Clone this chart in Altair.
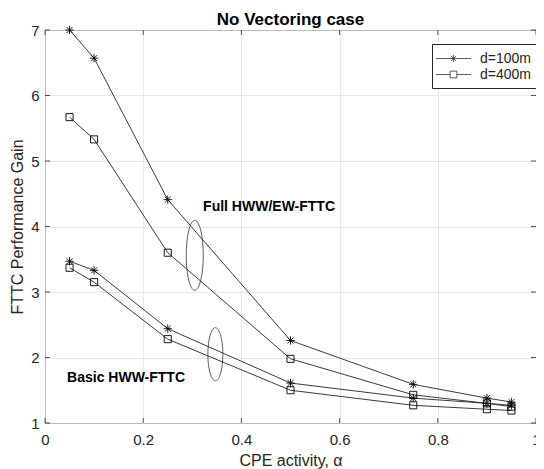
import altair as alt
import pandas as pd

alpha = [0.05, 0.1, 0.25, 0.5, 0.75, 0.9, 0.95]
full_100 = [7.0, 6.57, 4.41, 2.26, 1.59, 1.38, 1.32]
full_400 = [5.67, 5.33, 3.60, 1.98, 1.43, 1.30, 1.25]
basic_100 = [3.47, 3.33, 2.44, 1.61, 1.38, 1.30, 1.27]
basic_400 = [3.37, 3.15, 2.28, 1.50, 1.27, 1.21, 1.19]

series = [
    ("Full", "d=100m", full_100),
    ("Full", "d=400m", full_400),
    ("Basic", "d=100m", basic_100),
    ("Basic", "d=400m", basic_400),
]
legend_labels = ["d=100m", "d=400m"]

x_ticks = [0, 0.2, 0.4, 0.6, 0.8, 1]
y_ticks = [1, 2, 3, 4, 5, 6, 7]

annot_text = ["Full HWW/EW-FTTC", "Basic HWW-FTTC"]
annot_x = [0.322, 0.045]
annot_y = [4.30, 1.69]

ell_x = [0.305, 0.347]
ell_y = [3.56, 2.05]

rows = []
for scheme, d, vals in series:
    for a, v in zip(alpha, vals):
        rows.append({"alpha": a, "gain": v, "scheme": scheme, "dist": d, "grp": scheme + d})
df = pd.DataFrame(rows)

W, H = 491, 393
ink = "#262626"
FONT = "Liberation Sans"

xs = alt.Scale(domain=[0, 1], nice=False)
ys = alt.Scale(domain=[1, 7], nice=False)

STAR = "M-1,0L1,0M0,-1L0,1M-0.71,-0.71L0.71,0.71M-0.71,0.71L0.71,-0.71"
STAR_LEG = "M-2.2,0L2.2,0M0,-0.45L0,0.45M-0.32,-0.32L0.32,0.32M-0.32,0.32L0.32,-0.32"
SQ_LEG = "M-2.2,0L-0.42,0M0.42,0L2.2,0M-0.42,-0.42L0.42,-0.42L0.42,0.42L-0.42,0.42Z"

base = alt.Chart(df)

xenc = alt.X("alpha:Q", scale=xs,
             axis=alt.Axis(title="CPE activity, α", values=x_ticks, format="~g"))
yenc = alt.Y("gain:Q", scale=ys,
             axis=alt.Axis(title="FTTC Performance Gain", values=y_ticks, format="d"))

lines = base.mark_line(color=ink, strokeWidth=0.9).encode(
    x=xenc, y=yenc, detail="grp:N")

pts = base.mark_point(filled=False, color="black", strokeWidth=0.9, opacity=1).encode(
    x="alpha:Q", y="gain:Q",
    shape=alt.Shape("dist:N", scale=alt.Scale(domain=legend_labels, range=[STAR, "square"]),
                    legend=None),
    size=alt.Size("dist:N", scale=alt.Scale(domain=legend_labels, range=[70, 50]), legend=None),
)

leg_df = pd.DataFrame({"alpha": [-5, -5], "gain": [0, 0], "dleg": legend_labels})
leg = alt.Chart(leg_df).mark_point(filled=False, color="black", strokeWidth=0.9, clip=True).encode(
    x="alpha:Q", y="gain:Q",
    shape=alt.Shape("dleg:N", scale=alt.Scale(domain=legend_labels, range=[STAR_LEG, SQ_LEG]),
                    legend=alt.Legend(title=None, orient="none", legendX=387, legendY=14,
                                      symbolSize=256,
                                      symbolStrokeColor="black", symbolStrokeWidth=0.9,
                                      symbolFillColor="transparent",
                                      symbolOffset=7,
                                      labelFontSize=14, labelFont=FONT,
                                      labelColor=ink, padding=6,
                                      fillColor="white", strokeColor=ink,
                                      rowPadding=0, labelOffset=18)),
)

e1 = alt.Chart(pd.DataFrame({"x": ell_x[:1], "y": ell_y[:1]})).mark_point(
    shape="M0,-1A0.243,1 0 1,1 0,1A0.243,1 0 1,1 0,-1Z", size=4900, filled=False,
    color="black", strokeWidth=0.9).encode(x="x:Q", y="y:Q")
e2 = alt.Chart(pd.DataFrame({"x": ell_x[1:], "y": ell_y[1:]})).mark_point(
    shape="M0,-1A0.283,1 0 1,1 0,1A0.283,1 0 1,1 0,-1Z", size=2809, filled=False,
    color="black", strokeWidth=0.9).encode(x="x:Q", y="y:Q")

txt = alt.Chart(pd.DataFrame({"x": annot_x, "y": annot_y, "t": annot_text})).mark_text(
    align="left", baseline="middle", fontWeight="bold", fontSize=14,
    font=FONT, color="black").encode(x="x:Q", y="y:Q", text="t:N")

tx = pd.DataFrame({"v": x_ticks})
ty = pd.DataFrame({"v": y_ticks})
tick_b = alt.Chart(tx).mark_rule(color=ink, strokeWidth=0.8).encode(
    x=alt.X("v:Q", scale=xs), y=alt.value(H), y2=alt.value(H - 5))
tick_t = alt.Chart(tx).mark_rule(color=ink, strokeWidth=0.8).encode(
    x=alt.X("v:Q", scale=xs), y=alt.value(0), y2=alt.value(5))
tick_l = alt.Chart(ty).mark_rule(color=ink, strokeWidth=0.8).encode(
    y=alt.Y("v:Q", scale=ys), x=alt.value(0), x2=alt.value(5))
tick_r = alt.Chart(ty).mark_rule(color=ink, strokeWidth=0.8).encode(
    y=alt.Y("v:Q", scale=ys), x=alt.value(W), x2=alt.value(W - 5))

chart = alt.layer(lines, tick_b, tick_t, tick_l, tick_r, pts, e1, e2, txt, leg).resolve_scale(
    shape="independent", size="independent"
).properties(
    width=W, height=H,
    autosize=alt.AutoSizeParams(type="none"),
    padding={"left": 37, "top": 22, "right": 0, "bottom": 46},
    title=alt.TitleParams("No Vectoring case", fontSize=17, fontWeight="bold",
                          font=FONT, color="black", anchor="middle",
                          frame="group", offset=1, dy=7),
).configure_view(
    stroke=ink, strokeWidth=1
).configure_axis(
    grid=True, gridColor="#e2e2e2", gridWidth=0.8, domain=False, ticks=False,
    labelFont=FONT, labelFontSize=15, labelColor=ink,
    titleFont=FONT, titleFontSize=16, titleColor=ink, titleFontWeight="normal",
).configure_axisX(labelPadding=9, titlePadding=5, labelFlush=False
).configure_axisY(labelPadding=6, titlePadding=5)

chart.save("out.html", embed_options={"renderer": "svg", "actions": False})
